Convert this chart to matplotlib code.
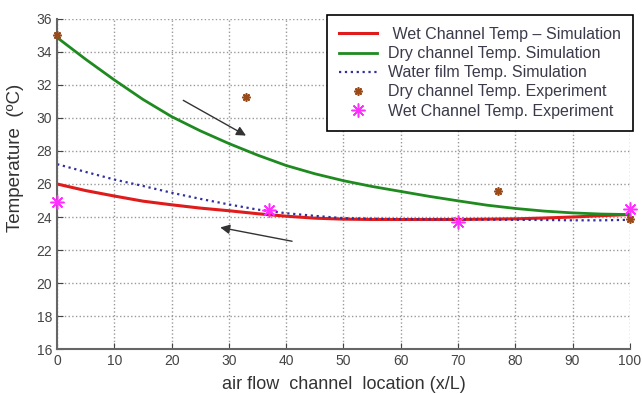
import numpy as np
from matplotlib import pyplot as plt

plt.rcParams['font.family'] = ['Liberation Sans', 'DejaVu Sans']

# simulation curves (every 5 x/L)
x_sim = [0, 5, 10, 15, 20, 25, 30, 35, 40, 45, 50, 55, 60, 65, 70, 75, 80, 85, 90, 95, 100]
dry_sim = [34.87, 33.55, 32.3, 31.12, 30.08, 29.22, 28.45, 27.75, 27.12, 26.62, 26.2,
           25.85, 25.55, 25.25, 24.98, 24.72, 24.52, 24.36, 24.25, 24.18, 24.15]
wet_sim = [26.0, 25.6, 25.27, 24.96, 24.74, 24.54, 24.38, 24.2, 24.05, 23.93, 23.87,
           23.85, 23.85, 23.85, 23.85, 23.87, 23.89, 23.94, 24.0, 24.08, 24.15]
film_sim = [27.2, 26.73, 26.27, 25.88, 25.47, 25.1, 24.76, 24.45, 24.23, 24.07, 23.93,
            23.9, 23.87, 23.86, 23.85, 23.84, 23.83, 23.82, 23.8, 23.8, 23.83]

# experiment points
x_dry_exp = [0, 33, 77, 100]
dry_exp = [35.0, 31.3, 25.6, 23.9]
x_wet_exp = [0, 37, 70, 100]
wet_exp = [24.9, 24.4, 23.7, 24.5]

fig = plt.figure(figsize=(6.42, 3.94), dpi=100)
ax = fig.add_axes([0.089, 0.114, 0.892, 0.838])

ax.plot(x_sim, wet_sim, color='#e01b1b', lw=2.2,
        label=' Wet Channel Temp \u2013 Simulation')
ax.plot(x_sim, dry_sim, color='#1f8a1f', lw=2,
        label='Dry channel Temp. Simulation')
ax.plot(x_sim, film_sim, color='#3030a0', lw=1.6, ls=':',
        label='Water film Temp. Simulation')
ax.plot(x_dry_exp, dry_exp, ls='none', marker=(8, 2, 0), ms=6, mew=1.2,
        color='#9b4a1a', label='Dry channel Temp. Experiment', clip_on=False, zorder=5)
ax.plot(x_wet_exp, wet_exp, ls='none', marker=(8, 2, 0), ms=10, mew=1.1,
        color='#ff30ff', label='Wet Channel Temp. Experiment', clip_on=False, zorder=5)

# flow direction arrows
ax.annotate('', xy=(33.4, 28.85), xytext=(21.6, 31.15),
            arrowprops=dict(arrowstyle='-|>', color='#333333', lw=1, mutation_scale=14))
ax.annotate('', xy=(28, 23.4), xytext=(41.5, 22.5),
            arrowprops=dict(arrowstyle='-|>', color='#333333', lw=1, mutation_scale=14))

ax.set_xlim(0, 100)
ax.set_ylim(16, 36)
ax.set_xticks(range(0, 101, 10))
ax.set_yticks(range(16, 37, 2))
ax.grid(True, ls=':', color='#999999', lw=1)
for s in ['top', 'right']:
    ax.spines[s].set_visible(False)
for s in ['left', 'bottom']:
    ax.spines[s].set_color('#666666')
    ax.spines[s].set_linewidth(1.5)
ax.tick_params(direction='in', colors='#444444', labelsize=10, length=4)

ax.set_xlabel('air flow  channel  location (x/L)', fontsize=13, color='#333333', labelpad=6)
ax.set_ylabel('Temperature  (\u00baC)', fontsize=13.5, color='#333333')
ax.yaxis.set_label_coords(-0.057, 0.58)

leg = fig.legend(loc='upper left', bbox_to_anchor=(0.509, 0.962), fontsize=11.5,
                 frameon=True, fancybox=False, edgecolor='black', framealpha=1,
                 handlelength=2.4, handletextpad=0.7, labelspacing=0.26,
                 borderpad=0.75, borderaxespad=0, numpoints=1)
leg.get_frame().set_linewidth(1.2)
for t in leg.get_texts():
    t.set_color('#3a3a4a')

fig.savefig('out.png', dpi=100)
